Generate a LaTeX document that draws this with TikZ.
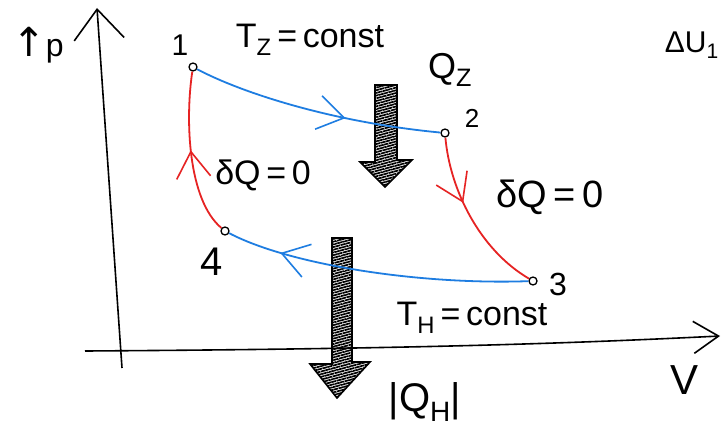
\documentclass[tikz,border=0pt]{standalone}
\usepackage{fontspec}
\setmainfont{Liberation Sans}
\newfontfamily\symfont{DejaVu Sans}
\usetikzlibrary{arrows.meta,decorations.markings,patterns.meta}
\definecolor{cblue}{RGB}{30,125,225}
\definecolor{cred}{RGB}{230,35,35}
\newcommand\myfs[1]{\fontsize{#1}{#1}\selectfont}
\begin{document}
\begin{tikzpicture}[x=1pt,y=-1pt,
  lbl/.style={inner sep=0pt,font=\myfs{#1}},
  ptmark/.style={circle,draw=black,fill=white,line width=1.3pt,inner sep=0pt,minimum size=8pt},
  axisline/.style={line width=1.6pt,black},
  iso/.style={cblue,line width=1.8pt},
  adi/.style={cred,line width=1.8pt},
  midarr/.style={postaction={decorate,decoration={markings,mark=at position #1 with {\arrow[line width=1.6pt]{Straight Barb[length=26pt,width=34pt]}}}}},
  heat/.style={draw=black,line width=1.6pt,pattern={Lines[angle=15,distance=2.6pt,line width=1.7pt]}}
]
\useasboundingbox[fill=white] (0,0) rectangle (721,436);
% axes
\coordinate (ptop) at (97,8);
\coordinate (pbot) at (122,368);
\draw[axisline,-{Straight Barb[length=30pt,width=50pt]}] (pbot) -- (ptop);
\coordinate (vl) at (85,351);
\coordinate (vr) at (720,336);
\draw[axisline,-{Straight Barb[length=25pt,width=32pt]}] (vl) .. controls (400,349) and (560,344) .. (vr);
% heat arrows
\draw[heat] (375,85) -- (397,85) -- (397,160) -- (412,160) -- (385,187) -- (360,162) -- (375,162) -- cycle;
\draw[heat] (332,238) -- (352,238) -- (352,362) -- (370,362) -- (337,398) -- (310,364) -- (332,364) -- cycle;
% states
\node[ptmark] (p1) at (193,67) {};
\node[ptmark] (p2) at (445,133) {};
\node[ptmark] (p3) at (533,281) {};
\node[ptmark] (p4) at (225,231) {};
% processes
\draw[iso,midarr=0.62] (p1) .. controls (240,92) and (330,122) .. (p2);
\draw[adi,midarr=0.4] (p2) .. controls (450,190) and (480,250) .. (p3);
\draw[iso,midarr=0.82] (p3) .. controls (420,285) and (290,265) .. (p4);
\draw[adi,midarr=0.52] (p4) .. controls (188,200) and (185,120) .. (p1);
% labels
\node[lbl=32] (lp) at (38,45) {{\symfont\myfs{40}↑}p};
\node[lbl=30] (l1) at (180,45) {1};
\node[lbl=34] (ltz) at (310,40) {T\textsubscript{Z}\,=\,const};
\node[lbl=36] (lqz) at (450,70) {Q\textsubscript{Z}};
\node[lbl=26] (l2) at (472,118) {2};
\node[lbl=38] (ld23) at (550,197) {δQ\,=\,0};
\node[lbl=34] (ld41) at (263,175) {δQ\,=\,0};
\node[lbl=40] (l4) at (212,262) {4};
\node[lbl=32] (l3) at (558,284) {3};
\node[lbl=34] (lth) at (472,318) {T\textsubscript{H}\,=\,const};
\node[lbl=40] (lqh) at (425,402) {|Q\textsubscript{H}|};
\node[lbl=42] (lv) at (685,380) {V};
\node[lbl=30,anchor=east] (ldu) at (719,45) {ΔU\textsubscript{1}};
\end{tikzpicture}
\end{document}
